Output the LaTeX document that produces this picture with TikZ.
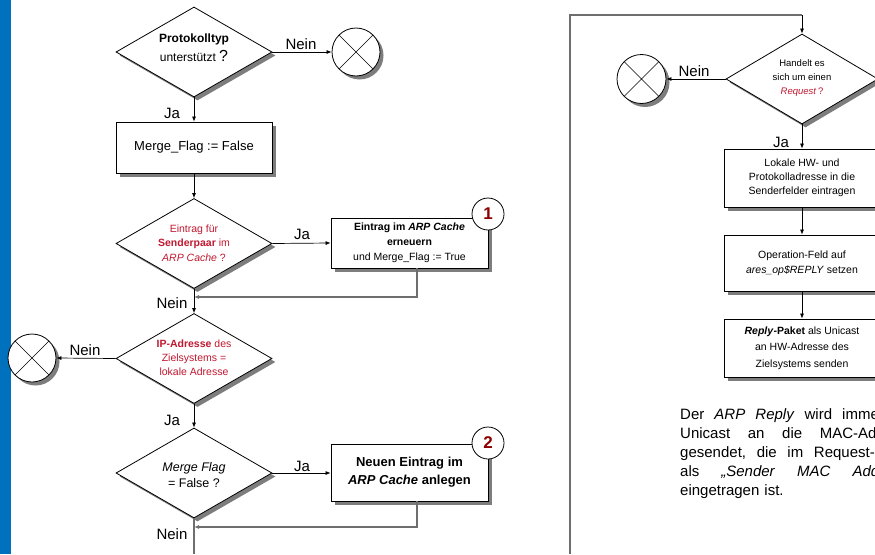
\documentclass[tikz,border=0pt]{standalone}
\usepackage{fontspec}
\setmainfont{Liberation Sans}
\usetikzlibrary{shapes.geometric,shadows,arrows.meta}
\definecolor{barblue}{RGB}{0,114,189}
\definecolor{alertred}{RGB}{192,24,48}
\definecolor{numred}{RGB}{140,0,0}
\definecolor{shadowgray}{RGB}{125,125,125}
\definecolor{linegray}{RGB}{110,110,110}
\newcommand\fsz[2]{\fontsize{#1}{#2}\selectfont}
\newdimen\notewd
\notewd=233pt
% one justified line of the note: words separated by stretchable gaps
\newcommand\jline[1]{\noindent\hbox to\notewd{#1}\par}
\newcommand\js{\hskip 4pt plus 1fil\relax}

\tikzset{
  boxshadow/.style={drop shadow={shadow xshift=3.5pt,shadow yshift=-3.5pt,fill=shadowgray,opacity=1}},
  decision/.style={diamond,draw,fill=white,line width=0.8pt,inner sep=0pt,
    minimum width=156pt,minimum height=90pt,boxshadow},
  stepbox/.style={rectangle,draw,fill=white,line width=0.8pt,inner sep=2pt,
    minimum width=156pt,align=center,boxshadow},
  stopnode/.style={circle,draw,fill=white,line width=0.8pt,minimum size=48pt,inner sep=0pt,boxshadow,
    path picture={\draw[line width=0.6pt]
      (path picture bounding box.north west) -- (path picture bounding box.south east)
      (path picture bounding box.north east) -- (path picture bounding box.south west);}},
  numnode/.style={circle,draw,fill=white,line width=0.8pt,minimum size=32pt,inner sep=0pt,
    font=\fsz{17}{20}\bfseries,text=numred},
  tip/.style={-{Latex[length=5pt,width=4pt]}},
  flow/.style={draw,line width=0.7pt,tip},
  back/.style={draw=linegray,line width=1.1pt},
  lbl/.style={font=\fsz{15}{18},inner sep=0pt},
  txt/.style={align=center,inner sep=0pt},
}

\begin{document}
\begin{tikzpicture}[x=1pt,y=-1pt]
  \path[use as bounding box] (0,0) rectangle (875,554);
  \clip (0,0) rectangle (875,554);

  % side bar
  \fill[barblue] (0,0) rectangle (11,554);

  % ---------- left flow ----------
  \node[decision] (d1) at (194,52) {};
  \node[txt,font=\fsz{12}{19}] (t1) at (194,48) {\textbf{Protokolltyp}\\unterstützt {\fsz{16}{19}?}};
  \node[stopnode] (c1) at (356,52) {};
  \path[flow] (d1.east) -- (c1.west);
  \node[lbl] (l1) at (301,44) {Nein};

  \node[stepbox,minimum height=51pt,font=\fsz{13}{16}] (b1) at (194,147.5) {Merge\_Flag := False};
  \path[flow] (d1.south) -- (b1.north);
  \node[lbl] (l2) at (172,113) {Ja};

  \node[decision] (d2) at (194,243.5) {};
  \node[txt,text=alertred,font=\fsz{10.5}{14.5}] (t2) at (194,243) {Eintrag für\\\textbf{Senderpaar} im\\\textit{ARP Cache} ?};
  \path[flow] (b1.south) -- (d2.north);

  \node[stepbox,minimum width=157pt,minimum height=50pt,font=\fsz{10.5}{15}] (b3) at (409.5,243)
    {\textbf{Eintrag im \textit{ARP Cache}}\\\textbf{erneuern}\\und Merge\_Flag := True};
  \node[numnode] (n1) at (488,214) {1};
  \path[flow] (d2.east) -- (b3.west);
  \node[lbl] (l3) at (302,234) {Ja};
  \coordinate (j1) at (194,297);
  \path[back,tip] ([xshift=7.5pt]b3.south) |- (j1);

  \node[decision] (d3) at (194,358.5) {};
  \node[txt,text=alertred,font=\fsz{10.5}{14}] (t3) at (194,357.5) {\textbf{IP-Adresse} des\\Zielsystems =\\lokale Adresse};
  \path[flow] (d2.south) -- (d3.north);
  \node[lbl] (l4) at (172,303) {Nein};
  \node[stopnode] (c2) at (32,358) {};
  \path[flow] (d3.west) -- (c2.east);
  \node[lbl] (l5) at (85,350) {Nein};

  \node[decision] (d4) at (194,473) {};
  \node[txt,font=\fsz{12.5}{16}] (t4) at (194,475) {\textit{Merge Flag}\\= False ?};
  \path[flow] (d3.south) -- (d4.north);
  \node[lbl] (l6) at (172,420) {Ja};

  \node[stepbox,minimum width=157pt,minimum height=57pt,font=\fsz{13}{18}\bfseries] (b4) at (409.5,472.5)
    {Neuen Eintrag im\\\textit{ARP Cache} anlegen};
  \node[numnode] (n2) at (488,443) {2};
  \path[flow] (d4.east) -- (d4.east -| b4.west);
  \node[lbl] (l7) at (302,466) {Ja};
  \coordinate (j2) at (194,527);
  \path[back,tip] ([xshift=7.5pt]b4.south) |- (j2);
  \coordinate (exit) at (194,554);
  \path[back] (d4.south) -- (exit);
  \node[lbl] (l8) at (172,534) {Nein};

  % ---------- right flow ----------
  \coordinate (p0) at (570,554);
  \coordinate (p1) at (570,15);
  \coordinate (p2) at (802,15);
  \path[back] (p0) -- (p1) -- (p2);

  \node[decision,minimum width=152pt] (d5) at (802,79) {};
  \node[txt,font=\fsz{9.5}{14}] (t5) at (802,78) {Handelt es\\sich um einen\\\textcolor{alertred}{\textit{Request}\,?}};
  \path[flow] (p2) -- (d5.north);
  \node[stopnode,minimum size=49pt] (c3) at (641.5,79) {};
  \path[flow] (d5.west) -- (c3.east);
  \node[lbl] (l9) at (694,71) {Nein};

  \node[stepbox,minimum height=58pt,font=\fsz{10.5}{14}] (b5) at (802,178)
    {Lokale HW- und\\Protokolladresse in die\\Senderfelder eintragen};
  \path[flow] (d5.south) -- (b5.north);
  \node[lbl] (l10) at (781,142) {Ja};

  \node[stepbox,minimum height=56pt,font=\fsz{10.5}{15}] (b6) at (802,263)
    {Operation-Feld auf\\\textit{ares\_op\$REPLY} setzen};
  \path[flow] (b5.south) -- (b6.north);

  \node[stepbox,minimum height=58pt,font=\fsz{10.5}{16.5}] (b7) at (802,348)
    {\textbf{\textit{Reply}-Paket} als Unicast\\an HW-Adresse des\\Zielsystems senden};
  \path[flow] (b6.south) -- (b7.north);

  % justified note beside the flow
  \node[anchor=base west,inner sep=0pt,text width=\notewd,font=\fsz{15}{19.2}] (note) at (680,419) {%
    \jline{Der\js\textit{ARP}\js\textit{Reply}\js wird\js immer\js als}
    \jline{Unicast\js an\js die\js MAC-Adresse}
    \jline{gesendet,\js die\js im\js Request-Paket}
    \jline{als\js\textit{„Sender}\js\textit{MAC}\js\textit{Address“}}
    \noindent eingetragen ist.};
\end{tikzpicture}
\end{document}
